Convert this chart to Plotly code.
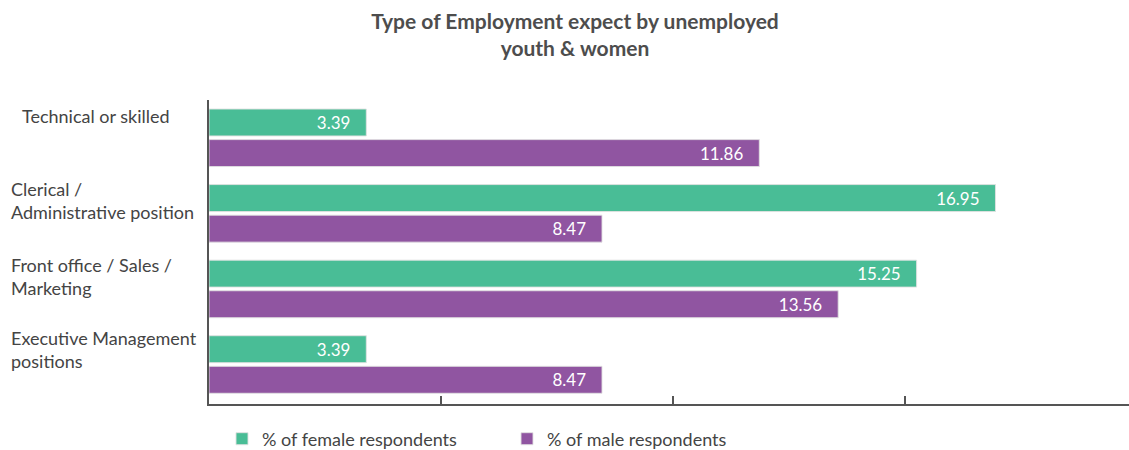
import plotly.graph_objects as go

# Employment types (top to bottom) and share of respondents, %
categories = [
    "Technical or skilled",
    "Clerical / Administrative position",
    "Front office / Sales / Marketing",
    "Executive Management positions",
]
category_labels = [
    "Technical or skilled",
    "Clerical /<br>Administrative position",
    "Front office / Sales /<br>Marketing",
    "Executive Management<br>positions",
]
female_pct = [3.39, 16.95, 15.25, 3.39]
male_pct = [11.86, 8.47, 13.56, 8.47]

GREEN = "#49BD96"
PURPLE = "#9055A1"
FONT = "Lato, 'Open Sans', sans-serif"

W, H = 1129, 450
L, R, T, B = 209, 0, 100, 46
plot_w = W - L - R
plot_h = H - T - B

PAD = "&nbsp;" * 3

fig = go.Figure()
for name, vals, color in [
    ("% of female respondents", female_pct, GREEN),
    ("% of male respondents", male_pct, PURPLE),
]:
    fig.add_trace(go.Bar(
        y=categories, x=vals, orientation="h", name=name,
        marker=dict(color=color, line=dict(color="rgba(225,225,225,0.9)", width=1)),
        text=[f"{v:.2f}{PAD}" for v in vals],
        textposition="inside", insidetextanchor="end",
        textfont=dict(family=FONT, size=17, color="white"),
        cliponaxis=False,
        hoverinfo="x+name",
    ))

# Category labels, left aligned in the left margin
label_x = [20, 9, 9, 9]
label_shift = [22, 12.5, 12.5, 15]
for cat, lab, px, ys in zip(categories, category_labels, label_x, label_shift):
    fig.add_annotation(
        x=(px - L) / plot_w, xref="paper", xanchor="left",
        y=cat, yref="y", yanchor="middle", yshift=ys,
        text=lab, showarrow=False, align="left",
        font=dict(family=FONT, size=18, color="#444444"),
    )

fig.update_layout(
    width=W, height=H,
    margin=dict(l=L, r=R, t=T, b=B, autoexpand=False),
    paper_bgcolor="white", plot_bgcolor="white",
    barmode="group", bargap=0.19, bargroupgap=0.12,
    title=dict(
        text="<b>Type of Employment expect by unemployed<br>youth & women</b>",
        x=575 / W, xanchor="center", xref="container",
        y=1 - 29 / H, yanchor="middle",
        font=dict(family=FONT, size=21, color="#4d4d4d", weight=900),
    ),
    xaxis=dict(
        range=[0, plot_w / 46.4], dtick=5, tick0=0,
        showgrid=False, zeroline=False, showticklabels=False,
        showline=True, linecolor="#555555", linewidth=2,
        ticks="inside", ticklen=8, tickwidth=1.5, tickcolor="#555555",
        fixedrange=True,
    ),
    yaxis=dict(
        autorange="reversed", showticklabels=False, showgrid=False,
        showline=True, linecolor="#555555", linewidth=2,
        ticks="", fixedrange=True,
    ),
    legend=dict(
        orientation="h", x=(222 - L) / plot_w, xanchor="left",
        y=(404 - 439) / plot_h, yanchor="middle",
        font=dict(family=FONT, size=18, color="#444444"),
        entrywidth=240, entrywidthmode="pixels",
        traceorder="normal",
    ),
    showlegend=True,
)

fig.write_html("out.html")
